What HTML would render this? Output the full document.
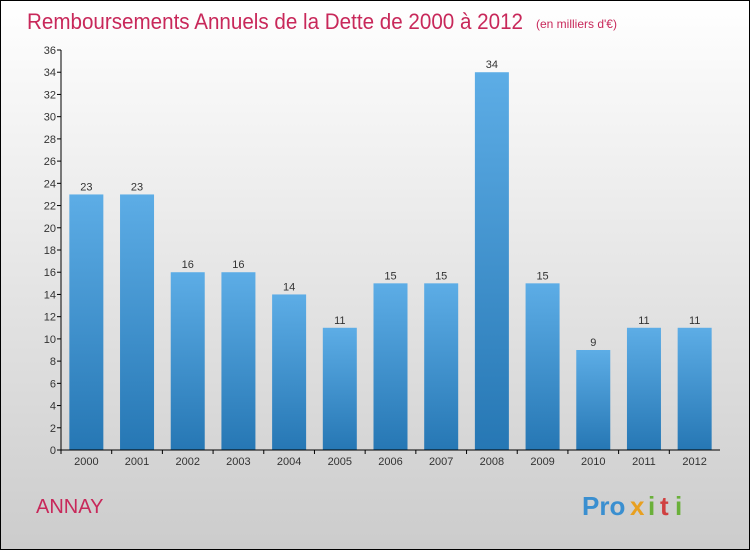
<!DOCTYPE html>
<html><head><meta charset="utf-8"><style>
body{margin:0;width:750px;height:550px;overflow:hidden;font-family:"Liberation Sans",sans-serif}
</style></head><body>
<svg id="chart" width="750" height="550" xmlns="http://www.w3.org/2000/svg">
<defs>
<linearGradient id="bg" x1="0" y1="0" x2="0" y2="1"><stop offset="0" stop-color="#ffffff"/><stop offset="1" stop-color="#cccccc"/></linearGradient>
<linearGradient id="bar" x1="0" y1="0" x2="0" y2="1"><stop offset="0" stop-color="#5dade6"/><stop offset="1" stop-color="#2677b4"/></linearGradient>
</defs>
<rect x="0.5" y="0.5" width="749" height="549" fill="url(#bg)" stroke="#000"/>
<text x="27" y="29" font-size="22" fill="#c8285a" textLength="496" lengthAdjust="spacingAndGlyphs">Remboursements Annuels de la Dette de 2000 à 2012</text>
<text x="536" y="28" font-size="12" fill="#c8285a">(en milliers d'€)</text>
<text x="36" y="513" font-size="20" fill="#c8285a">ANNAY</text>
<g font-size="26" font-weight="bold">
<text x="582" y="515" fill="#3a8fd0">Pro</text><text x="630" y="515" fill="#e8a020">x</text><text x="648" y="515" fill="#6ab03a">i</text><text x="660" y="515" fill="#d04040">t</text><text x="675" y="515" fill="#6ab03a">i</text>
</g>
<g id="plot"></g>
</svg>
<script>
const categories=["2000","2001","2002","2003","2004","2005","2006","2007","2008","2009","2010","2011","2012"];
const values=[23,23,16,16,14,11,15,15,34,15,9,11,11];
const yTicks=[0,2,4,6,8,10,12,14,16,18,20,22,24,26,28,30,32,34,36];
const NS="http://www.w3.org/2000/svg";
const g=document.getElementById('plot');
const x0=61,x1=720,y0=450,y1=50,yMax=36;
const step=(x1-x0)/categories.length;
const bw=34;
function yS(v){return y0-(v/yMax)*(y0-y1);}
function xC(i){return x0+step*(i+0.5);}
function el(t,a){const e=document.createElementNS(NS,t);for(const k in a)e.setAttribute(k,a[k]);g.appendChild(e);return e;}
yTicks.forEach(v=>{
 const t=el('line',{x1:x0-4,x2:x0,y1:yS(v),y2:yS(v),stroke:'#000'});
 
 
 const l=el('text',{x:x0-5,y:yS(v)+4,'font-size':11,'text-anchor':'end',fill:'#333'});
 l.textContent=v;
 
 
});
categories.forEach((c,i)=>{
 const v=values[i];
 const r=el('rect',{x:xC(i)-bw/2,y:yS(v),width:bw,height:y0-yS(v),fill:'url(#bar)'});
 
 
 const vl=el('text',{x:xC(i),y:yS(v)-4,'font-size':11,'text-anchor':'middle',fill:'#333'});
 vl.textContent=v;
 
 
 const xl=el('text',{x:xC(i),y:y0+15,'font-size':11,'text-anchor':'middle',fill:'#333'});
 xl.textContent=c;
 
 
 const xt=el('line',{x1:xC(i)-step/2,x2:xC(i)-step/2,y1:y0,y2:y0+4,stroke:'#000'});
 
 
});
const ya=el('line',{x1:x0,x2:x0,y1:y1,y2:y0,stroke:'#000'});


const xa=el('line',{x1:x0,x2:x1,y1:y0,y2:y0,stroke:'#000'});


</script>
</body></html>
